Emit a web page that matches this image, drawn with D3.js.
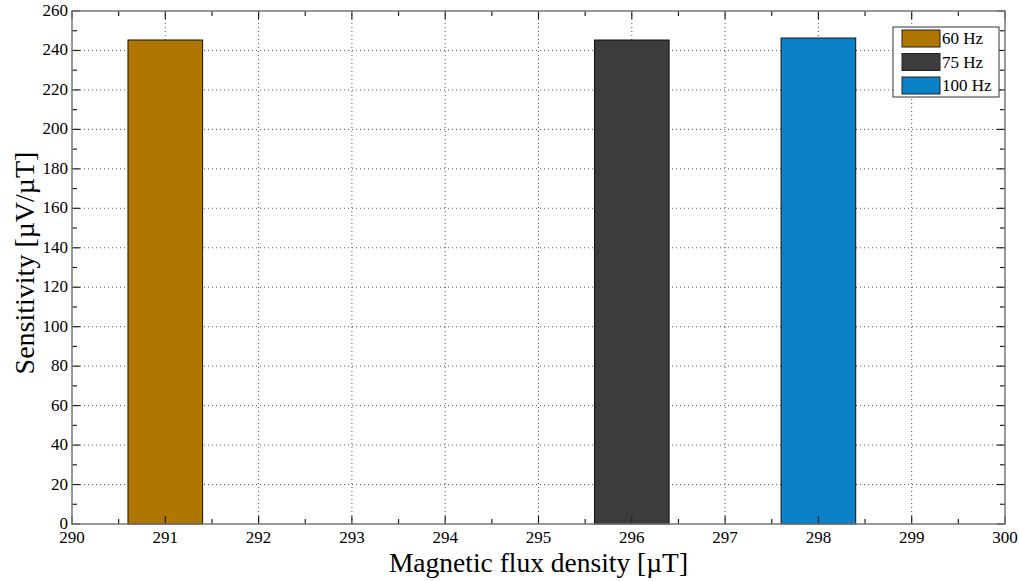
<!DOCTYPE html>
<html><head><meta charset="utf-8">
<script src="https://cdn.jsdelivr.net/npm/d3@7"></script>
<style>body{margin:0;background:#fff}svg{display:block}text{font-family:"Liberation Serif","Times New Roman",serif}</style>
</head><body><svg id="c" width="1019" height="581"></svg>
<script>
const series = ["60 Hz", "75 Hz", "100 Hz"];
const xPositions = [291, 296, 298];
const values = [245.3, 245.3, 246.3];
const colors = ["#AF7600", "#3C3C3C", "#0B82C7"];
const xTicks = [290,291,292,293,294,295,296,297,298,299,300];
const yTicks = [0,20,40,60,80,100,120,140,160,180,200,220,240,260];

const svg = d3.select("#c");
const L = 72, R = 1005, T = 11, B = 524;
const x = d3.scaleLinear().domain([290,300]).range([L,R]);
const y = d3.scaleLinear().domain([0,260]).range([B,T]);

// grid
const g = svg.append("g");
xTicks.slice(1,-1).forEach(v => g.append("line").attr("x1",x(v)).attr("x2",x(v)).attr("y1",T).attr("y2",B)
  .attr("stroke","#555").attr("stroke-width",1).attr("stroke-dasharray","1,3"));
yTicks.slice(1,-1).forEach(v => g.append("line").attr("x1",L).attr("x2",R).attr("y1",y(v)).attr("y2",y(v))
  .attr("stroke","#555").attr("stroke-width",1).attr("stroke-dasharray","1,3"));

// bars
const bw = x(0.8) - x(0);
svg.append("g").selectAll("rect").data(values).join("rect")
  .attr("x",(d,i)=>x(xPositions[i]-0.4)).attr("width",bw)
  .attr("y",d=>y(d)).attr("height",d=>y(0)-y(d))
  .attr("fill",(d,i)=>colors[i]).attr("stroke","#111").attr("stroke-width",1);

// ticks (inward, all four sides)
const tk = svg.append("g").attr("stroke","#222").attr("stroke-width",1.2);
const xMinor = d3.range(290,300.01,0.5);
xMinor.forEach(v => {
  const len = Number.isInteger(v) ? 8 : 5;
  tk.append("line").attr("x1",x(v)).attr("x2",x(v)).attr("y1",B).attr("y2",B-len);
  tk.append("line").attr("x1",x(v)).attr("x2",x(v)).attr("y1",T).attr("y2",T+len);
});
const yMinor = d3.range(0,260.01,10);
yMinor.forEach(v => {
  const len = v % 20 === 0 ? 8 : 5;
  tk.append("line").attr("x1",L).attr("x2",L+len).attr("y1",y(v)).attr("y2",y(v));
  tk.append("line").attr("x1",R).attr("x2",R-len).attr("y1",y(v)).attr("y2",y(v));
});

// frame
svg.append("rect").attr("x",L).attr("y",T).attr("width",R-L).attr("height",B-T)
  .attr("fill","none").attr("stroke","#777").attr("stroke-width",1.5);

// tick labels
svg.append("g").selectAll("text").data(xTicks).join("text")
  .attr("x",d=>x(d)).attr("y",B+19).attr("text-anchor","middle")
  .attr("font-size",17).text(d=>d);
svg.append("g").selectAll("text").data(yTicks).join("text")
  .attr("x",L-4).attr("y",d=>y(d)+5).attr("text-anchor","end")
  .attr("font-size",17).text(d=>d);

// axis titles
svg.append("text").attr("x",(L+R)/2).attr("y",572).attr("text-anchor","middle")
  .attr("font-size",27.5).text("Magnetic flux density [µT]");
svg.append("text").attr("transform",`translate(34,263) rotate(-90)`).attr("text-anchor","middle")
  .attr("font-size",28).text("Sensitivity [µV/µT]");

// legend
const lg = svg.append("g");
lg.append("rect").attr("x",893).attr("y",27).attr("width",106).attr("height",70)
  .attr("fill","#fff").attr("stroke","#333").attr("stroke-width",1);
series.forEach((s,i) => {
  const yy = 30 + i*23.5;
  lg.append("rect").attr("x",902).attr("y",yy).attr("width",38).attr("height",17)
    .attr("fill",colors[i]).attr("stroke","#222").attr("stroke-width",1);
  lg.append("text").attr("x",942).attr("y",yy+14).attr("font-size",17).text(s);
});
</script></body></html>
